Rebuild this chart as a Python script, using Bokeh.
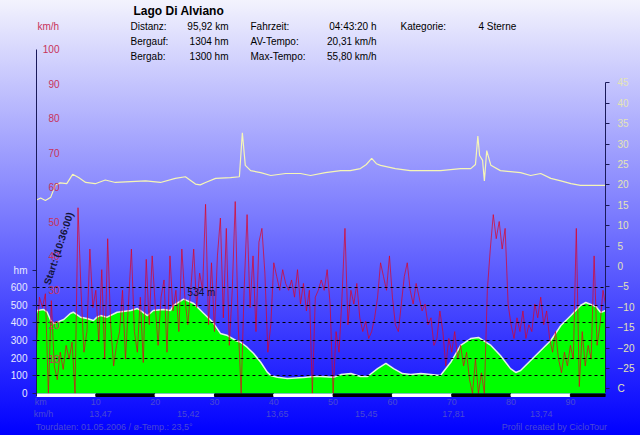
from bokeh.plotting import figure
from bokeh.models import (Range1d, LinearAxis, FixedTicker, Label, LabelSet,
                          ColumnDataSource, Grid, AllLabels)
from bokeh.core.properties import value
from bokeh.embed import file_html
from bokeh.resources import INLINE

# ---------------- data ----------------
title_text = "Lago Di Alviano"
stat_names = [["Distanz:", "Bergauf:", "Bergab:"],
              ["Fahrzeit:", "AV-Tempo:", "Max-Tempo:"],
              ["Kategorie:"]]
stat_values = [["95,92 km", "1304 hm", "1300 hm"],
               ["04:43:20 h", "20,31 km/h", "55,80 km/h"],
               ["4 Sterne"]]
total_km = 95.92

elev_km = [0.0, 0.1, 1.2, 1.8, 2.4, 2.9, 3.5, 4.6, 5.7, 6.2, 7.4, 8.5, 9.6, 10.2,
           10.8, 11.9, 13.6, 15.9, 17.0, 17.5, 18.7, 19.7, 21.4, 22.6, 23.1, 24.8,
           26.5, 28.2, 29.7, 31.0, 32.2, 33.6, 34.4, 35.5, 36.6, 37.8, 38.9, 39.5,
           40.6, 42.3, 45.0, 46.7, 47.9, 50.1, 51.3, 53.0, 54.6, 55.8, 57.5, 58.9,
           60.2, 61.7, 63.1, 64.8, 68.1, 69.8, 71.5, 73.2, 74.5, 76.6, 78.2, 79.9,
           80.8, 81.6, 83.3, 85.0, 86.7, 88.4, 90.1, 91.7, 92.6, 94.3, 95.1, 95.92]
elev_hm = [455, 470, 475, 460, 413, 396, 404, 419, 453, 460, 432, 424, 413, 432,
           441, 432, 460, 470, 481, 470, 441, 470, 475, 470, 498, 534,
           509, 453, 404, 340, 328, 300, 290, 262, 226, 177, 121, 102,
           92, 85, 90, 96, 96, 92, 107, 113, 96, 96, 141, 170,
           141, 113, 107, 113, 102, 175, 272, 311, 317, 272, 215, 141,
           119, 130, 187, 243, 300, 385, 441, 498, 515, 492, 458, 470]

temp_km = [0.0, 0.7, 1.5, 2.4, 3.2, 4.0, 5.1, 6.1, 7.1, 8.3,
           9.9, 11.6, 13.3, 15.9, 18.4, 20.9, 23.4, 25.1, 26.8, 27.6,
           28.5, 30.2, 32.7, 34.2, 34.7, 35.2, 36.1, 37.8, 39.5, 42.0,
           44.5, 46.2, 48.7, 51.3, 52.9, 54.6, 55.6, 56.5, 57.3, 58.0,
           60.5, 63.0, 68.1, 71.5, 73.2, 74.0, 74.4, 74.7, 75.2, 75.5,
           75.9, 76.6, 78.2, 81.6, 83.3, 85.0, 86.7, 88.4, 90.1, 91.7,
           94.3, 95.92]
temp_c = [16.3, 16.8, 16.2, 17.0, 20.0, 20.5, 20.3, 22.6, 21.8, 20.6,
          20.3, 21.2, 20.6, 20.8, 21.0, 20.6, 21.6, 22.0, 20.2, 20.0,
          20.6, 21.6, 21.8, 22.0, 32.8, 24.8, 23.5, 23.0, 22.3, 22.8,
          22.8, 22.3, 23.0, 23.5, 23.5, 24.0, 25.0, 26.5, 25.2, 24.8,
          24.0, 23.5, 23.5, 24.0, 24.0, 25.0, 32.0, 27.2, 26.0, 21.0,
          28.4, 24.8, 23.5, 23.0, 22.3, 22.8, 21.6, 21.0, 20.3, 19.9,
          19.9, 19.9]

spd_km = [0.0, 0.5, 1.0, 1.5, 2.0, 2.5, 3.0, 3.5, 4.0, 4.5,
          5.0, 5.5, 6.0, 6.5, 7.0, 7.5, 8.0, 8.5, 9.0, 9.5,
          10.0, 10.5, 11.0, 11.5, 12.0, 12.5, 13.0, 13.5, 14.0, 14.5,
          15.0, 15.5, 16.0, 16.5, 17.0, 17.5, 18.0, 18.5, 19.0, 19.5,
          20.0, 20.5, 21.0, 21.5, 22.0, 22.5, 23.0, 23.5, 24.0, 24.5,
          25.0, 25.5, 26.0, 26.5, 27.0, 27.5, 28.0, 28.5, 29.0, 29.5,
          30.0, 30.5, 31.0, 31.5, 32.0, 32.5, 33.0, 33.5, 34.0, 34.5,
          35.0, 35.5, 36.0, 36.5, 37.0, 37.5, 38.0, 38.5, 39.0, 39.5,
          40.0, 40.5, 41.0, 41.5, 42.0, 42.5, 43.0, 43.5, 44.0, 44.5,
          45.0, 45.5, 46.0, 46.5, 47.0, 47.5, 48.0, 48.5, 49.0, 49.5,
          50.0, 50.5, 51.0, 51.5, 52.0, 52.5, 53.0, 53.5, 54.0, 54.5,
          55.0, 55.5, 56.0, 56.5, 57.0, 57.5, 58.0, 58.5, 59.0, 59.5,
          60.0, 60.5, 61.0, 61.5, 62.0, 62.5, 63.0, 63.5, 64.0, 64.5,
          65.0, 65.5, 66.0, 66.5, 67.0, 67.5, 68.0, 68.5, 69.0, 69.5,
          70.0, 70.5, 71.0, 71.5, 72.0, 72.5, 73.0, 73.5, 74.0, 74.5,
          75.0, 75.5, 76.0, 76.5, 77.0, 77.5, 78.0, 78.5, 79.0, 79.5,
          80.0, 80.5, 81.0, 81.5, 82.0, 82.5, 83.0, 83.5, 84.0, 84.5,
          85.0, 85.5, 86.0, 86.5, 87.0, 87.5, 88.0, 88.5, 89.0, 89.5,
          90.0, 90.5, 91.0, 91.5, 92.0, 92.5, 93.0, 93.5, 94.0, 94.5,
          95.0, 95.5, 95.9]
spd_kmh = [14, 28, 25, 29, 0, 27, 8, 4, 12, 7,
           14, 10, 15, 0, 54, 30, 12, 18, 42, 25,
           30, 15, 36, 10, 45, 20, 8, 14, 18, 30,
           10, 26, 42, 18, 12, 28, 9, 39, 20, 40,
           26, 14, 28, 33, 12, 40, 24, 30, 18, 42,
           28, 20, 30, 42, 25, 35, 30, 55, 20, 38,
           18, 40, 51, 22, 48, 14, 30, 55.8, 20, 0,
           30, 52, 25, 40, 18, 44, 48, 35, 12, 20,
           38, 34, 30, 36, 32, 30, 33, 28, 36, 26,
           32, 24, 30, 0, 28, 30, 33, 30, 36, 26,
           0, 18, 12, 28, 48, 20, 30, 26, 32, 22,
           18, 21, 16, 18, 22, 28, 38, 34, 30, 40,
           28, 20, 18, 26, 34, 38, 30, 26, 32, 28,
           24, 26, 20, 22, 14, 16, 24, 18, 8, 16,
           12, 18, 10, 14, 8, 12, 4, 0, 10, 0,
           6, 0, 30, 42, 52, 45, 50, 42, 48, 26,
           20, 16, 22, 18, 24, 16, 20, 18, 26, 22,
           28, 20, 24, 16, 12, 18, 10, 6, 12, 8,
           14, 10, 48, 2, 18, 8, 14, 10, 40, 14,
           20, 30, 26]

km_ticks = [10, 20, 30, 40, 50, 60, 70, 80, 90]
hm_ticks = [0, 100, 200, 300, 400, 500, 600]
kmh_ticks = [10, 20, 30, 40, 50, 60, 70, 80, 90, 100]
temp_ticks = [-30, -25, -20, -15, -10, -5, 0, 5, 10, 15, 20, 25, 30, 35, 40, 45]
seg_km = [10.8, 25.6, 40.6, 55.6, 70.3, 85.1]
seg_speed = ["13,47", "15,42", "13,65", "15,45", "17,81", "13,74"]
bar_start = [0, 10, 20, 30, 40, 50, 60, 70, 80, 90]
bar_end = [10, 20, 30, 40, 50, 60, 70, 80, 90, total_km]
footer_left = "Tourdaten: 01.05.2006 / \u00f8-Temp.: 23,5\u00b0"
footer_right = "Profil created by CicloTour"
start_text = "Start: (10:36:00)"

# ---------------- layout ----------------
FONT = "Liberation Sans"
W, H = 640, 435
FL, FR, FT, FB = 36, 605, 0, 398

def sx(px):
    return px - FL

def sy(py):
    return FB - py

p = figure(width=W, height=H, output_backend="svg", toolbar_location=None,
           title=None,
           x_range=Range1d(0, total_km), y_range=Range1d(-28.3, 2224),
           min_border_left=FL, min_border_right=W - FR,
           min_border_top=FT, min_border_bottom=H - FB,
           x_axis_location=None, y_axis_location=None)
p.extra_y_ranges = {"speed": Range1d(-1.45, 114.24),
                    "temp": Range1d(-32.35, 65.2)}
p.grid.visible = False
p.outline_line_color = None
p.border_fill_color = None
p.background_fill_color = None
p.styles = {"background-image": "linear-gradient(to bottom, #f3f3fd 0%, #0000ff 100%)"}

# elevation
p.varea(x=elev_km, y1=0, y2=elev_hm, fill_color="#00ff00")
p.line(elev_km, elev_hm, line_color="#e4f4e4", line_width=1.5)

# grid lines over elevation
g = Grid(dimension=1, ticker=FixedTicker(ticks=hm_ticks[1:]),
         grid_line_color="black", grid_line_dash="3 3", grid_line_width=1)
g.level = "glyph"
p.add_layout(g)

# speed
p.line(spd_km, spd_kmh, y_range_name="speed", line_color="#e00020",
       line_alpha=0.7, line_width=1)
# temperature
p.line(temp_km, temp_c, y_range_name="temp", line_color="#f6f6b6", line_width=1.2)

# km bar
bar_colors = ["white" if i % 2 == 0 else "black" for i in range(len(bar_start))]
p.quad(left=bar_start, right=bar_end, bottom=-17, top=-3, color=bar_colors)

# axes
AX = "#1a1a5a"
HM_LABEL_POS = 696
left = LinearAxis(ticker=FixedTicker(ticks=hm_ticks + [HM_LABEL_POS]),
                  major_label_overrides={HM_LABEL_POS: "hm"},
                  major_label_policy=AllLabels(),
                  bounds=(-17, 1947), axis_line_color=AX,
                  major_tick_line_color=AX, major_tick_out=4, major_tick_in=0,
                  minor_tick_out=0, minor_tick_in=0, major_label_standoff=5,
                  major_label_text_color="#e8e8ff", major_label_text_font=FONT,
                  major_label_text_font_size="10px")
p.add_layout(left, "left")

right = LinearAxis(y_range_name="temp", ticker=FixedTicker(ticks=temp_ticks),
                   major_label_overrides={-30: "C"}, bounds=(-31, 45),
                   axis_line_color=AX, major_tick_line_color=AX,
                   major_tick_out=4, major_tick_in=0, minor_tick_out=0,
                   minor_tick_in=0, major_label_standoff=8,
                   major_label_text_color="#e4e4b4", major_label_text_font=FONT,
                   major_label_text_font_size="10px")
p.add_layout(right, "right")

BLUE_TXT = "#4a4ad4"

def bottom_axis(ticks, overrides, standoff):
    ax = LinearAxis(ticker=FixedTicker(ticks=ticks), major_label_overrides=overrides,
                    axis_line_color=None, major_tick_line_color=None,
                    minor_tick_line_color=None, major_tick_out=0, major_tick_in=0,
                    minor_tick_out=0, minor_tick_in=0, major_label_standoff=standoff,
                    major_label_text_color=BLUE_TXT, major_label_text_font=FONT,
                    major_label_text_font_size="9px")
    p.add_layout(ax, "below")

bottom_axis([0.7] + km_ticks, {0.7: "km"}, -2)
seg_over = {1.2: "km/h"}
seg_over.update(dict(zip(seg_km, seg_speed)))
bottom_axis([1.2] + seg_km, seg_over, -1)
bottom_axis([13.1, 87.3], {13.1: footer_left, 87.3: footer_right}, 0)

# km/h tick labels inside the frame
kmh_src = ColumnDataSource(dict(x=[0] * len(kmh_ticks), y=kmh_ticks,
                                t=[str(v) for v in kmh_ticks]))
p.add_layout(LabelSet(x="x", y="y", text="t", source=kmh_src, y_range_name="speed",
                      x_offset=23, text_align="right", text_baseline="middle",
                      text_color="#c8325a", text_font=value(FONT),
                      text_font_size="10px"))

def lab(px, py, text, size="10px", color="black", align="left", bold=False, angle=0):
    p.add_layout(Label(x=sx(px), y=sy(py), x_units="screen", y_units="screen",
                       text=text, text_font=FONT, text_font_size=size,
                       text_color=color, text_align=align, text_baseline="middle",
                       text_font_style="bold" if bold else "normal",
                       angle=angle, angle_units="deg"))

# header (inside the frame's top area)
lab(133, 10, title_text, size="12px", bold=True)
lab(37, 26, "km/h", color="#c8325a")
row_y = [26, 41, 56]
name_x = [130, 250, 400]
val_x = [228, 376, 478]
for c in range(3):
    for r, txt in enumerate(stat_names[c]):
        lab(name_x[c], row_y[r], txt)
    for r, txt in enumerate(stat_values[c]):
        lab(val_x[c], row_y[r], txt, align="left" if c == 2 else "right")

# start label
lab(58, 248, start_text, size="10px", color="#141438", align="center", bold=True, angle=72)

# max elevation label
imax = max(range(len(elev_hm)), key=lambda i: elev_hm[i])
p.add_layout(Label(x=elev_km[imax], y=elev_hm[imax], x_offset=4, y_offset=7,
                   text=f"{elev_hm[imax]} m", text_font=FONT, text_font_size="10px",
                   text_color="#101030", text_baseline="middle"))

open("out.html", "w").write(file_html(p, INLINE))
